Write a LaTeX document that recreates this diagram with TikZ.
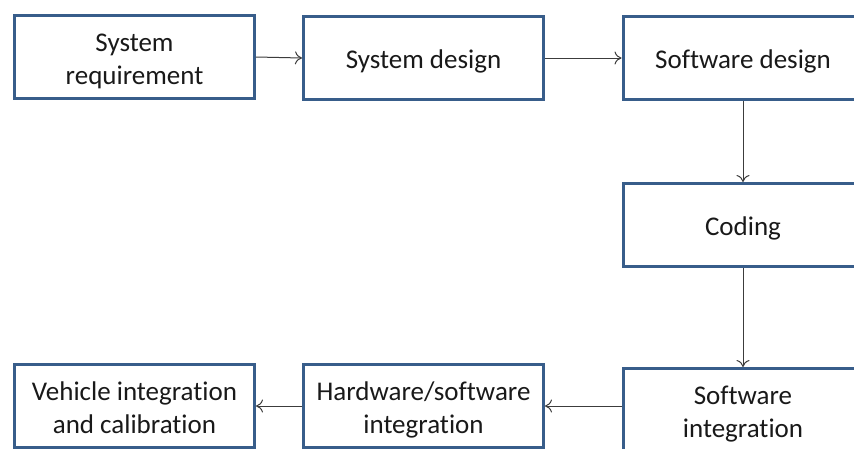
\documentclass[tikz,border=0pt]{standalone}
\usepackage{fontspec}
\setmainfont{Carlito}[RawFeature={-liga;-clig;-calt;-dlig}]
\usetikzlibrary{arrows.meta}
\definecolor{boxblue}{RGB}{56,93,138}
\definecolor{txt}{RGB}{25,25,25}
\definecolor{arr}{RGB}{60,60,60}
\newcommand\stagetext[1]{\raisebox{-4pt}[\height][\depth]{\begin{tabular}{@{}c@{}}#1\end{tabular}}}
\tikzset{
  stage/.style={draw=boxblue, line width=3pt, fill=white, minimum width=240pt, minimum height=83pt,
    inner sep=0pt, text=txt, font=\fontsize{27}{33}\selectfont},
  flow/.style={draw=arr, line width=1pt, -{To[length=7pt,width=13pt]}}
}
\begin{document}
\begin{tikzpicture}[x=1pt,y=-1pt]
\useasboundingbox (0,0) rectangle (854,448);
\clip (0,0) rectangle (854,448);
\fill[white] (0,0) rectangle (854,448);
\node[stage] (req) at (134.5,57) {\stagetext{System\\requirement}};
\node[stage] (sysd) at (423.5,58) {\stagetext{System design}};
\node[stage] (swd) at (743,58) {\stagetext{Software design}};
\node[stage] (cod) at (743,225) {\stagetext{Coding}};
\node[stage] (swi) at (743,410) {\stagetext{Software\\integration}};
\node[stage] (hw) at (423.5,406) {\stagetext{Hardware/software\\integration}};
\node[stage] (veh) at (134.5,406) {\stagetext{Vehicle integration\\and calibration}};
\draw[flow] (req.east) -- (sysd.west);
\draw[flow] (sysd.east) -- (swd.west);
\draw[flow] (swd.south) -- (cod.north);
\draw[flow] (cod.south) -- (swi.north);
\draw[flow] (swi.west |- hw.east) -- (hw.east);
\draw[flow] (hw.west) -- (veh.east);
\end{tikzpicture}
\end{document}
